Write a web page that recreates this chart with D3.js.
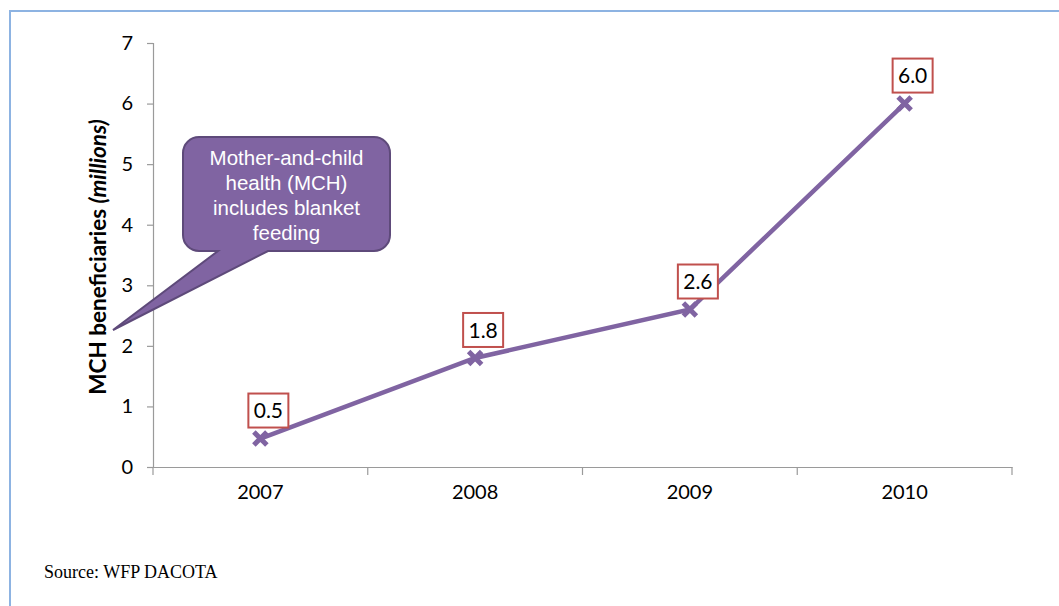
<!DOCTYPE html>
<html>
<head>
<meta charset="utf-8">
<script src="https://cdn.jsdelivr.net/npm/d3@7"></script>
<style>
  html, body { margin: 0; padding: 0; background: #fff; }
  #chart { width: 1059px; height: 606px; }
</style>
</head>
<body>
<div id="chart"></div>
<script>
// data
const years = ['2007', '2008', '2009', '2010'];
const beneficiaries = [0.47, 1.8, 2.6, 6.0];
const yTicks = [0, 1, 2, 3, 4, 5, 6, 7];
const calloutLines = ['Mother-and-child', 'health (MCH)', 'includes blanket', 'feeding'];
const sourceText = 'Source: WFP DACOTA';

const width = 1059, height = 606;
const margin = { left: 153, right: 47, top: 43, bottom: 139 };
const purple = '#8064A2';
const labelFont = 'Lato, "Open Sans", sans-serif';

const svg = d3.select('#chart').append('svg')
    .attr('width', width)
    .attr('height', height);

// outer frame (runs off the right and bottom edge)
svg.append('rect')
    .attr('x', 10).attr('y', 11)
    .attr('width', width + 20).attr('height', height + 20)
    .attr('fill', 'none')
    .attr('stroke', '#8DB3E2')
    .attr('stroke-width', 2);

const x = d3.scaleBand()
    .domain(years)
    .range([margin.left, width - margin.right]);

const y = d3.scaleLinear()
    .domain([0, 7])
    .range([height - margin.bottom, margin.top]);

// y axis
const yAxis = svg.append('g')
    .attr('transform', `translate(${margin.left},0)`)
    .call(d3.axisLeft(y).tickValues(yTicks).tickSize(6).tickPadding(14).tickFormat(d3.format('d')));
yAxis.select('.domain').attr('stroke', '#9a9a9a').attr('stroke-width', 1.2);
yAxis.selectAll('.tick line').attr('stroke', '#9a9a9a').attr('stroke-width', 1.2);
yAxis.selectAll('.tick text')
    .attr('font-family', labelFont)
    .attr('font-size', 20)
    .attr('fill', '#000');

// x axis
const xAxis = svg.append('g')
    .attr('transform', `translate(0,${y(0)})`)
    .call(d3.axisBottom(x).tickSize(0).tickPadding(18));
xAxis.select('.domain').attr('stroke', '#9a9a9a').attr('stroke-width', 1.2);
xAxis.selectAll('.tick text')
    .attr('font-family', labelFont)
    .attr('font-size', 20)
    .attr('fill', '#000');

// category boundary ticks
const bounds = years.map(d => x(d)).concat([x(years[years.length - 1]) + x.bandwidth()]);
xAxis.selectAll('line.bound')
    .data(bounds)
    .join('line')
    .attr('class', 'bound')
    .attr('x1', d => d).attr('x2', d => d)
    .attr('y1', 0).attr('y2', 8)
    .attr('stroke', '#9a9a9a')
    .attr('stroke-width', 1.2);

// y axis title
const yTitle = svg.append('text')
    .attr('transform', `translate(106,${(y(0) + y(7)) / 2 + 2}) rotate(-90)`)
    .attr('text-anchor', 'middle')
    .attr('font-family', labelFont)
    .attr('font-size', 22.5)
    .attr('font-weight', 'bold')
    .attr('fill', '#000');
yTitle.append('tspan').text('MCH beneficiaries ');
yTitle.append('tspan').attr('font-style', 'italic').text('(millions)');

// series line
const pts = years.map((d, i) => ({ year: d, value: beneficiaries[i] }));
const cx = d => x(d.year) + x.bandwidth() / 2;

svg.append('path')
    .datum(pts)
    .attr('fill', 'none')
    .attr('stroke', purple)
    .attr('stroke-width', 4.5)
    .attr('d', d3.line().x(cx).y(d => y(d.value)));

// x markers
const m = 6.5;
svg.append('g').selectAll('path')
    .data(pts)
    .join('path')
    .attr('d', d => {
        const px = cx(d), py = y(d.value);
        return `M${px - m},${py - m}L${px + m},${py + m}M${px - m},${py + m}L${px + m},${py - m}`;
    })
    .attr('stroke', purple)
    .attr('stroke-width', 5)
    .attr('fill', 'none');

// data labels in red-outlined boxes
const labels = svg.append('g').selectAll('g')
    .data(pts)
    .join('g')
    .attr('transform', d => `translate(${cx(d) + 8},${y(d.value) - 28})`);
labels.append('rect')
    .attr('x', -20).attr('y', -17)
    .attr('width', 40).attr('height', 34)
    .attr('fill', '#fff')
    .attr('stroke', '#C0504D')
    .attr('stroke-width', 2);
labels.append('text')
    .attr('text-anchor', 'middle')
    .attr('dy', '0.36em')
    .attr('font-family', labelFont)
    .attr('font-size', 21)
    .attr('fill', '#000')
    .text(d => d3.format('.1f')(d.value));

// callout bubble
const callout = svg.append('g');
const bx0 = 183, by0 = 137, bx1 = 390, by1 = 251, r = 16;
const bubble = d3.path();
bubble.moveTo(bx0 + r, by0);
bubble.lineTo(bx1 - r, by0);
bubble.arcTo(bx1, by0, bx1, by0 + r, r);
bubble.lineTo(bx1, by1 - r);
bubble.arcTo(bx1, by1, bx1 - r, by1, r);
bubble.lineTo(268, by1);
bubble.lineTo(113, 330);
bubble.lineTo(218, by1);
bubble.lineTo(bx0 + r, by1);
bubble.arcTo(bx0, by1, bx0, by1 - r, r);
bubble.lineTo(bx0, by0 + r);
bubble.arcTo(bx0, by0, bx0 + r, by0, r);
bubble.closePath();
callout.append('path')
    .attr('d', bubble.toString())
    .attr('fill', purple)
    .attr('stroke', '#5E4A7A')
    .attr('stroke-width', 2);
callout.append('text')
    .attr('text-anchor', 'middle')
    .attr('font-family', '"Liberation Sans", Arial, sans-serif')
    .attr('font-size', 20.5)
    .attr('fill', '#fff')
    .selectAll('tspan')
    .data(calloutLines)
    .join('tspan')
    .attr('x', (bx0 + bx1) / 2)
    .attr('y', (d, i) => 165 + i * 25)
    .text(d => d);

// source note
svg.append('text')
    .attr('x', 44).attr('y', 578)
    .attr('font-family', '"Liberation Serif", "DejaVu Serif", serif')
    .attr('font-size', 18)
    .attr('fill', '#000')
    .text(sourceText);
</script>
</body>
</html>
